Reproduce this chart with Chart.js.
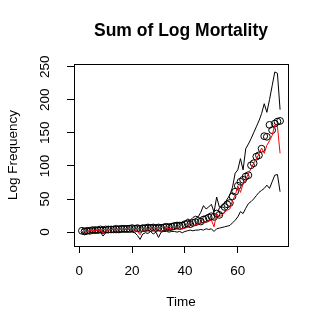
<!DOCTYPE html>
<html>
<head>
<meta charset="utf-8">
<script src="https://cdn.jsdelivr.net/npm/chart.js@4/dist/chart.umd.min.js"></script>
<style>
    html, body { margin: 0; padding: 0; background: #fff; }
    #wrap { width: 327px; height: 327px; }
</style>
</head>
<body>
<div id="wrap"><canvas id="mortalityChart" width="327" height="327"></canvas></div>
<script>
// time index of each observation
const timeSteps = [
    1, 2, 3, 4, 5, 6, 7, 8, 9, 10, 11, 12, 13, 14, 15, 16, 17, 18, 19, 20,
    21, 22, 23, 24, 25, 26, 27, 28, 29, 30, 31, 32, 33, 34, 35, 36, 37, 38, 39, 40,
    41, 42, 43, 44, 45, 46, 47, 48, 49, 50, 51, 52, 53, 54, 55, 56, 57, 58, 59, 60,
    61, 62, 63, 64, 65, 66, 67, 68, 69, 70, 71, 72, 73, 74, 75, 76
];

// observed sum of log mortality (circles)
const observed = [
    2, 1, 2, 2, 3, 3, 3, 4, 3, 4, 4, 4, 4, 5, 4, 5, 5, 5, 5, 6,
    5, 6, 5, 6, 6, 7, 6, 7, 6, 7, 6, 7, 8, 7, 8, 9, 10, 9, 10, 12,
    13, 12, 14, 15, 17, 16, 19, 20, 22, 24, 23, 28, 26, 33, 38, 42, 44, 54, 61, 70,
    76, 79, 84, 86, 101, 104, 114, 116, 126, 145, 144, 162, 154, 164, 167, 168
];

// fitted mean (red line)
const fitted = [
    2, -2, 1, 2, 3, 2, 3, 3, -2, 3, 3, 4, 4, 3, 4, 4, 4, 4, 4, 4,
    3, 1, -4, 2, 4, 3, 6, 2, 5, 3, 0, 4, 6, 5, 6, 7, 6, 7, 5, 6,
    7, 14, 9, 11, 12, 14, 13, 16, 17, 18, 8, 28, 23, 26, 30, 33, 35, 48, 55, 70,
    60, 73, 80, 88, 96, 104, 110, 118, 127, 119, 131, 138, 146, 162, 160, 119
];

// upper and lower bands (black lines)
const upperBand = [
    4, 5, 5, 6, 6, 6, 7, 7, 7, 7, 8, 8, 8, 8, 9, 9, 9, 9, 10, 9,
    10, 10, 9, 10, 10, 11, 11, 11, 10, 11, 11, 12, 12, 12, 13, 14, 14, 15, 14, 16,
    20, 18, 22, 24, 23, 30, 40, 35, 38, 42, 30, 53, 38, 40, 43, 50, 56, 68, 89, 94,
    111, 94, 126, 133, 141, 150, 159, 168, 179, 194, 181, 200, 221, 242, 240, 185
];
const lowerBand = [
    0, -4, -2, -1, 0, -1, 0, 0, -6, -1, -1, 0, 0, -1, 0, 0, 0, 0, 0, 0,
    -1, -5, -11, -3, -1, -2, 1, -3, 0, -8, 0, 1, 1, 0, 1, 1, 0, 1, -1, 1,
    2, 3, 2, 3, 3, 4, 3, 5, 4, 5, 1, 5, 6, 7, 8, 9, 10, 14, 18, 23,
    31, 28, 36, 43, 46, 50, 55, 60, 63, 66, 71, 66, 76, 86, 87, 61
];

const xTickValues = [0, 20, 40, 60];
const yTickValues = [0, 50, 100, 150, 200, 250];

const FONT = '"Liberation Sans", Arial, Helvetica, sans-serif';

function toPoints(values) {
    return values.map((v, i) => ({ x: timeSteps[i], y: v }));
}

// R style full box round the plot region
const boxPlugin = {
    id: 'plotBox',
    afterDatasetsDraw(chart) {
        const a = chart.chartArea;
        const ctx = chart.ctx;
        ctx.save();
        ctx.strokeStyle = '#000';
        ctx.lineWidth = 1;
        ctx.strokeRect(Math.round(a.left) + 0.5, Math.round(a.top) + 0.5,
            Math.round(a.right - a.left), Math.round(a.bottom - a.top));
        ctx.restore();
    }
};

new Chart(document.getElementById('mortalityChart'), {
    type: 'line',
    data: {
        datasets: [
            {
                label: 'Fitted',
                data: toPoints(fitted),
                borderColor: '#ff0000',
                borderWidth: 1,
                pointRadius: 0,
                tension: 0,
                order: 0
            },
            {
                label: 'Observed',
                data: toPoints(observed),
                showLine: false,
                pointRadius: 3.4,
                pointBorderWidth: 1,
                pointBorderColor: '#000',
                pointBackgroundColor: 'rgba(0,0,0,0)',
                order: 1
            },
            {
                label: 'Upper',
                data: toPoints(upperBand),
                borderColor: '#000',
                borderWidth: 1,
                pointRadius: 0,
                tension: 0,
                order: 2
            },
            {
                label: 'Lower',
                data: toPoints(lowerBand),
                borderColor: '#000',
                borderWidth: 1,
                pointRadius: 0,
                tension: 0,
                order: 3
            }
        ]
    },
    options: {
        responsive: false,
        animation: false,
        devicePixelRatio: 1,
        layout: { padding: { left: 0, right: 39, top: 0, bottom: 0 } },
        plugins: {
            legend: { display: false },
            tooltip: { enabled: false },
            title: {
                display: true,
                fullSize: false,
                text: 'Sum of Log Mortality',
                color: '#000',
                font: { family: FONT, size: 17.5, weight: 'bold', lineHeight: 1.2 },
                padding: { top: 21, bottom: 22 }
            }
        },
        scales: {
            x: {
                type: 'linear',
                min: -2,
                max: 79,
                afterBuildTicks: scale => { scale.ticks = xTickValues.map(v => ({ value: v })); },
                afterFit: scale => { scale.height = 81; },
                grid: { drawOnChartArea: false, drawTicks: true, tickLength: 7, color: '#000', lineWidth: 1 },
                border: { display: true, color: '#000', width: 1 },
                ticks: {
                    color: '#000',
                    font: { family: FONT, size: 13.5 },
                    padding: 10,
                    maxRotation: 0,
                    minRotation: 0,
                    callback: v => String(v)
                },
                title: {
                    display: true,
                    text: 'Time',
                    color: '#000',
                    font: { family: FONT, size: 13.5 },
                    padding: { top: 0, bottom: 17 }
                }
            },
            y: {
                type: 'linear',
                min: -21,
                max: 254,
                afterBuildTicks: scale => { scale.ticks = yTickValues.map(v => ({ value: v })); },
                afterFit: scale => { scale.width = 74; },
                grid: { drawOnChartArea: false, drawTicks: true, tickLength: 7, color: '#000', lineWidth: 1 },
                border: { display: true, color: '#000', width: 1 },
                ticks: {
                    color: '#000',
                    font: { family: FONT, size: 13.5 },
                    padding: 10,
                    minRotation: 90,
                    maxRotation: 90,
                    crossAlign: 'center',
                    callback: v => String(v)
                },
                title: {
                    display: true,
                    text: 'Log Frequency',
                    color: '#000',
                    font: { family: FONT, size: 13.5 },
                    padding: { top: 5, bottom: 0 }
                }
            }
        }
    },
    plugins: [boxPlugin]
});
</script>
</body>
</html>
